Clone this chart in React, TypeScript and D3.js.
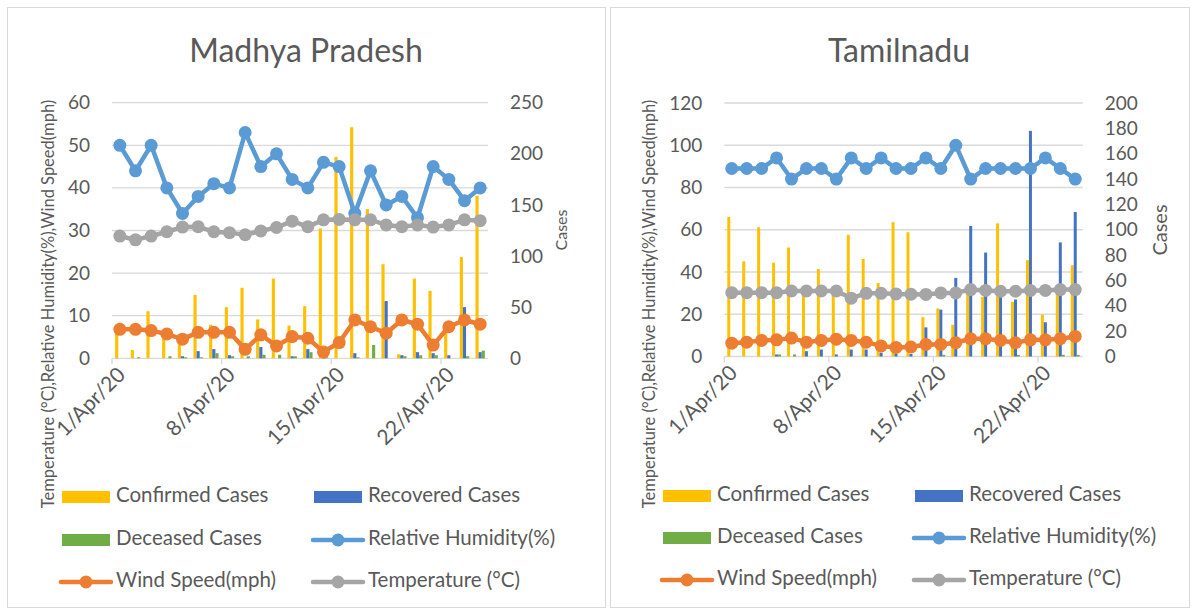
import React, { useEffect, useRef } from "react";
import * as d3 from "d3";

// categories (x axis)
const days = [
  "1/Apr/20", "2/Apr/20", "3/Apr/20", "4/Apr/20", "5/Apr/20", "6/Apr/20",
  "7/Apr/20", "8/Apr/20", "9/Apr/20", "10/Apr/20", "11/Apr/20", "12/Apr/20",
  "13/Apr/20", "14/Apr/20", "15/Apr/20", "16/Apr/20", "17/Apr/20", "18/Apr/20",
  "19/Apr/20", "20/Apr/20", "21/Apr/20", "22/Apr/20", "23/Apr/20", "24/Apr/20",
];
const dayTicks = ["1/Apr/20", "8/Apr/20", "15/Apr/20", "22/Apr/20"];

// Madhya Pradesh
const mpConfirmed = [30, 8, 46, 24, 19, 62, 33, 50, 69, 38, 78, 32, 51, 127, 197, 226, 146, 92, 4, 78, 66, 32, 99, 159];
const mpRecovered = [0, 0, 0, 0, 2, 7, 9, 3, 0, 11, 0, 2, 9, 2, 0, 5, 0, 56, 3, 6, 5, 3, 50, 6];
const mpDeceased = [0, 1, 0, 2, 1, 1, 5, 2, 2, 3.5, 3.5, 2, 6, 1, 0, 1, 13, 0, 2, 3, 3, 0, 2, 7.5];
const mpHumidity = [50, 44, 50, 40, 34, 38, 41, 40, 53, 45, 48, 42, 40, 46, 45, 34, 44, 36, 38, 33, 45, 42, 37, 40];
const mpWind = [6.8, 6.8, 6.5, 5.7, 4.5, 6.1, 6.1, 6.1, 2.1, 5.5, 2.9, 5.1, 4.7, 1.5, 3.7, 9.0, 7.4, 5.9, 9.0, 8.0, 3.1, 7.4, 9.0, 8.0];
const mpTemp = [28.7, 27.8, 28.7, 29.7, 30.8, 30.9, 29.7, 29.5, 29, 29.9, 30.7, 32.2, 30.9, 32.5, 32.6, 32.5, 32.5, 31.3, 30.9, 31.3, 30.8, 31.3, 32.5, 32.3];
const mpLeftTicks = [0, 10, 20, 30, 40, 50, 60];
const mpRightTicks = [0, 50, 100, 150, 200, 250];

// Tamilnadu
const tnConfirmed = [110, 75, 102, 74, 86, 50, 69, 48, 96, 77, 58, 106, 98, 31, 38, 25, 50, 47, 105, 43, 76, 33, 50, 72];
const tnRecovered = [0, 0, 0, 1.6, 0, 4.2, 5.5, 1.6, 5.5, 5.5, 3, 2, 2, 23, 37, 62, 103, 82, 48, 45, 178, 27, 90, 114];
const tnDeceased = [0, 0, 0, 1.6, 1.6, 0, 0, 0, 0, 0, 0, 0, 0, 0, 1.3, 0, 0, 0, 0, 1.3, 0, 0, 1.3, 1.3];
const tnHumidity = [89, 89, 89, 94, 84, 89, 89, 84, 94, 89, 94, 89, 89, 94, 89, 100, 84, 89, 89, 89, 89, 94, 89, 84];
const tnWind = [6.3, 6.8, 7.6, 7.9, 8.7, 6.8, 7.6, 8.2, 7.6, 6.8, 5.0, 4.3, 4.5, 5.7, 5.7, 6.5, 8.4, 8.4, 7.6, 6.5, 7.9, 7.9, 8.4, 9.5];
const tnTemp = [30.2, 30.2, 30.2, 30.2, 31, 31, 31, 31, 27.6, 29.9, 29.9, 29.6, 29.5, 29.4, 30.1, 30.1, 31.7, 31.3, 30.9, 30.9, 31.3, 31.3, 31.7, 31.7];
const tnLeftTicks = [0, 20, 40, 60, 80, 100, 120];
const tnRightTicks = [0, 20, 40, 60, 80, 100, 120, 140, 160, 180, 200];

const barNames = ["Confirmed Cases", "Recovered Cases", "Deceased Cases"];
const lineNames = ["Relative Humidity(%)", "Wind Speed(mph)", "Temperature (°C)"];
const barColors = ["#FFC000", "#4472C4", "#70AD47"];
const lineColors = ["#5B9BD5", "#ED7D31", "#A5A5A5"];

const FONT = "Lato, 'Open Sans', sans-serif";
const TEXT = "#595959";
const GRID = "#D9D9D9";

const panels = [
  {
    title: "Madhya Pradesh",
    bars: [mpConfirmed, mpRecovered, mpDeceased],
    lines: [mpHumidity, mpWind, mpTemp],
    leftTicks: mpLeftTicks,
    rightTicks: mpRightTicks,
    frame: { x: 7.5, y: 7.5, w: 598, h: 600 },
    plot: { x0: 112, x1: 488, top: 102.7, bottom: 358.3 },
    titleX: 306,
    leftTitleX: 50,
    casesX: 563,
    casesSize: 16,
    legendX: 62,
    legendCol2: 314,
    legendY: [497, 540, 582],
  },
  {
    title: "Tamilnadu",
    bars: [tnConfirmed, tnRecovered, tnDeceased],
    lines: [tnHumidity, tnWind, tnTemp],
    leftTicks: tnLeftTicks,
    rightTicks: tnRightTicks,
    frame: { x: 610.5, y: 7.5, w: 579, h: 600 },
    plot: { x0: 724.3, x1: 1082.7, top: 103, bottom: 356.5 },
    titleX: 899,
    leftTitleX: 651,
    casesX: 1162,
    casesSize: 20,
    legendX: 663,
    legendCol2: 915,
    legendY: [496, 538, 580],
  },
];

function drawPanel(svg, p) {
  const { x0, x1, top, bottom } = p.plot;
  const leftMax = p.leftTicks[p.leftTicks.length - 1];
  const rightMax = p.rightTicks[p.rightTicks.length - 1];

  const x = d3.scaleBand().domain(days).range([x0, x1]);
  const yL = d3.scaleLinear().domain([0, leftMax]).range([bottom, top]);
  const yR = d3.scaleLinear().domain([0, rightMax]).range([bottom, top]);
  const bw = x.bandwidth();
  const sub = d3.scaleBand().domain([0, 1, 2]).range([-bw * 0.3, bw * 0.3]);

  const g = svg.append("g");

  g.append("rect")
    .attr("x", p.frame.x).attr("y", p.frame.y)
    .attr("width", p.frame.w).attr("height", p.frame.h)
    .attr("fill", "#fff").attr("stroke", GRID);

  g.append("text")
    .attr("x", p.titleX).attr("y", 62)
    .attr("text-anchor", "middle")
    .attr("fill", TEXT).style("font-size", "32px")
    .text(p.title);

  // gridlines (primary axis)
  g.append("g").selectAll("line").data(p.leftTicks.slice(1)).join("line")
    .attr("x1", x0).attr("x2", x1)
    .attr("y1", d => yL(d)).attr("y2", d => yL(d))
    .attr("stroke", GRID).attr("stroke-width", 1.3);

  // y axes
  const left = g.append("g").attr("transform", `translate(${x0},0)`)
    .call(d3.axisLeft(yL).tickValues(p.leftTicks).tickSize(0).tickPadding(22));
  const right = g.append("g").attr("transform", `translate(${x1},0)`)
    .call(d3.axisRight(yR).tickValues(p.rightTicks).tickSize(0).tickPadding(22));
  [left, right].forEach(a => {
    a.select(".domain").remove();
    a.selectAll("text").attr("fill", TEXT).style("font-size", "19px").style("font-family", FONT);
  });

  // x axis
  const xa = g.append("g");
  xa.append("line")
    .attr("x1", x0).attr("x2", x1).attr("y1", bottom).attr("y2", bottom)
    .attr("stroke", GRID).attr("stroke-width", 1.3);
  xa.selectAll(".tk").data(dayTicks).join("line")
    .attr("x1", d => x(d)).attr("x2", d => x(d))
    .attr("y1", bottom).attr("y2", bottom + 6)
    .attr("stroke", GRID).attr("stroke-width", 1.3);
  xa.selectAll("text").data(dayTicks).join("text")
    .attr("transform", d => `translate(${x(d) + bw / 2 + 3},${bottom + 14}) rotate(-45)`)
    .attr("text-anchor", "end")
    .attr("dominant-baseline", "middle")
    .attr("fill", TEXT).style("font-size", "21px")
    .text(d => d);

  // axis titles
  g.append("text")
    .attr("transform", `translate(${p.leftTitleX},304) rotate(-90)`)
    .attr("text-anchor", "middle").attr("dominant-baseline", "middle")
    .attr("fill", TEXT).style("font-size", "16.5px")
    .text("Temperature (°C),Relative Humidity(%),Wind Speed(mph)");
  g.append("text")
    .attr("transform", `translate(${p.casesX},230) rotate(-90)`)
    .attr("text-anchor", "middle").attr("dominant-baseline", "middle")
    .attr("fill", TEXT).style("font-size", `${p.casesSize}px`)
    .text("Cases");

  // clustered bars on the secondary axis
  p.bars.forEach((vals, k) => {
    g.append("g").selectAll("rect").data(vals).join("rect")
      .attr("x", (d, i) => x(days[i]) + bw / 2 + sub(k))
      .attr("width", sub.bandwidth())
      .attr("y", d => yR(d))
      .attr("height", d => bottom - yR(d))
      .attr("fill", barColors[k]);
  });

  // lines with markers on the primary axis
  const line = d3.line()
    .x((d, i) => x(days[i]) + bw / 2)
    .y(d => yL(d));
  p.lines.forEach((vals, k) => {
    const lg = g.append("g");
    lg.append("path")
      .attr("d", line(vals))
      .attr("fill", "none")
      .attr("stroke", lineColors[k])
      .attr("stroke-width", 4.5)
      .attr("stroke-linejoin", "round");
    lg.selectAll("circle").data(vals).join("circle")
      .attr("cx", (d, i) => x(days[i]) + bw / 2)
      .attr("cy", d => yL(d))
      .attr("r", 6.5)
      .attr("fill", lineColors[k]);
  });

  // legend
  const items = [
    { name: barNames[0], color: barColors[0], bar: true },
    { name: barNames[1], color: barColors[1], bar: true },
    { name: barNames[2], color: barColors[2], bar: true },
    { name: lineNames[0], color: lineColors[0], bar: false },
    { name: lineNames[1], color: lineColors[1], bar: false },
    { name: lineNames[2], color: lineColors[2], bar: false },
  ];
  items.forEach((it, i) => {
    const lx = i % 2 === 0 ? p.legendX : p.legendCol2;
    const ly = p.legendY[Math.floor(i / 2)];
    const lgd = g.append("g");
    if (it.bar) {
      lgd.append("rect")
        .attr("x", lx).attr("y", ly - 6).attr("width", 48).attr("height", 12)
        .attr("fill", it.color);
    } else {
      lgd.append("line")
        .attr("x1", lx - 1).attr("x2", lx + 49).attr("y1", ly).attr("y2", ly)
        .attr("stroke", it.color).attr("stroke-width", 4.5).attr("stroke-linecap", "round");
      lgd.append("circle").attr("cx", lx + 24).attr("cy", ly).attr("r", 6.5).attr("fill", it.color);
    }
    lgd.append("text")
      .attr("x", lx + 54).attr("y", ly)
      .attr("dominant-baseline", "middle")
      .attr("fill", TEXT).style("font-size", "20.5px")
      .text(it.name);
  });
}

export default function App() {
  const svgRef = useRef(null);

  useEffect(() => {
    const svg = d3.select(svgRef.current);
    svg.selectAll("*").remove();
    svg.append("rect").attr("width", 1195).attr("height", 610).attr("fill", "#fff");
    panels.forEach(p => drawPanel(svg, p));
  }, []);

  return (
    <svg
      ref={svgRef}
      width={1195}
      height={610}
      style={{ position: "fixed", left: 0, top: 0, fontFamily: FONT }}
    />
  );
}
